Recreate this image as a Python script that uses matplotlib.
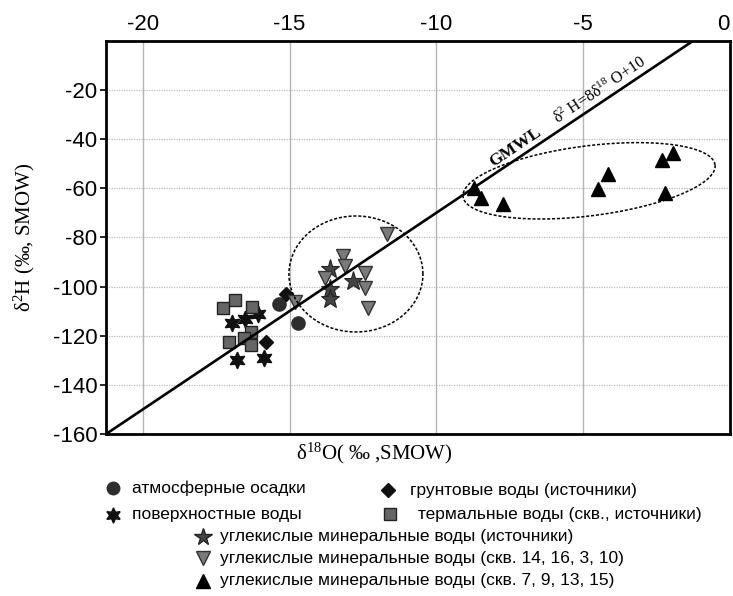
import numpy as np
import matplotlib.pyplot as plt
from matplotlib.lines import Line2D

plt.rcParams['font.family'] = ['Liberation Sans', 'DejaVu Sans']
plt.rcParams['axes.unicode_minus'] = False
plt.rcParams['mathtext.fontset'] = 'custom'
plt.rcParams['mathtext.rm'] = 'Liberation Serif'
plt.rcParams['mathtext.it'] = 'Liberation Serif:italic'

# data (delta18O, delta2H)
atm_x = [-15.35, -14.70]
atm_y = [-107.2, -114.7]
surf_x = [-16.97, -16.52, -16.07, -16.80, -15.87]
surf_y = [-114.7, -113.3, -111.3, -130.0, -129.2]
ground_x = [-15.12, -15.80]
ground_y = [-102.9, -122.4]
therm_x = [-17.26, -16.86, -16.29, -16.33, -16.54, -17.06, -16.33]
therm_y = [-108.6, -105.6, -108.2, -118.5, -120.8, -122.6, -123.8]
co2src_x = [-13.62, -12.85, -13.62, -13.62]
co2src_y = [-93.0, -97.7, -101.1, -105.2]
co2a_x = [-14.82, -11.67, -13.17, -13.11, -13.79, -12.43, -12.43, -12.32]
co2a_y = [-106.3, -78.7, -87.6, -91.6, -96.6, -94.7, -100.7, -108.8]
co2b_x = [-8.72, -8.49, -7.74, -4.49, -4.15, -2.33, -1.95, -2.21]
co2b_y = [-59.8, -63.8, -66.5, -60.4, -54.3, -48.6, -45.5, -61.8]

x_ticks = [-20, -15, -10, -5, 0]
y_ticks = [-160, -140, -120, -100, -80, -60, -40, -20]

labels = ['атмосферные осадки', 'грунтовые воды (источники)',
          'поверхностные воды', 'термальные воды (скв., источники)',
          'углекислые минеральные воды (источники)',
          'углекислые минеральные воды (скв. 14, 16, 3, 10)',
          'углекислые минеральные воды (скв. 7, 9, 13, 15)']

W, H = 733, 596
fig = plt.figure(figsize=(W / 100, H / 100), dpi=100)
L, R, B, T = 105.5 / W, 730 / W, 1 - 434 / H, 1 - 40.7 / H
ax = fig.add_axes([L, B, R - L, T - B])
xmin, xmax, ymin, ymax = -21.27, 0, -160, 0
ax.set_xlim(xmin, xmax)
ax.set_ylim(ymin, ymax)

# pixels per data unit, used for text angle and tilted ellipse
sx = (R - L) * W / (xmax - xmin)
sy = (T - B) * H / (ymax - ymin)

for v in x_ticks[:-1]:
    ax.axvline(v, color='#b5b5b5', lw=1, zorder=0)
for v in y_ticks[1:]:
    ax.axhline(v, color='#bdbdbd', lw=0.9, ls=(0, (1, 1)), zorder=0)

mk = dict(ls='none', zorder=2)
ax.plot(atm_x, atm_y, marker='o', ms=9.5, mfc='#2e2e2e', mec='#2e2e2e', **mk)
ax.plot(surf_x, surf_y, marker=(6, 1, 0), ms=12, mfc='#111111', mec='#111111', **mk)
ax.plot(ground_x, ground_y, marker='D', ms=7, mfc='#111111', mec='#111111', **mk)
ax.plot(therm_x, therm_y, marker='s', ms=9, mfc='#666666', mec='#222222', mew=1, **mk)
ax.plot(co2src_x, co2src_y, marker='*', ms=14, mfc='#444444', mec='#222222', mew=0.8, **mk)
ax.plot(co2a_x, co2a_y, marker='v', ms=10, mfc='#7a7a7a', mec='#333333', mew=1, **mk)
ax.plot(co2b_x, co2b_y, marker='^', ms=10, mfc='#000000', mec='#000000', **mk)

# GMWL: d2H = 8 d18O + 10
gx = np.linspace(xmin, (ymax - 10) / 8, 50)
ax.plot(gx, 8 * gx + 10, color='black', lw=1.9, zorder=3)
ang = np.degrees(np.arctan(8 * sy / sx))
ax.text(-7.31, -43.2, 'GMWL', rotation=ang, ha='center', va='center',
        family='Liberation Serif', weight='bold', fontsize=12.5,
        rotation_mode='anchor')
ax.text(-4.43, -20.4, 'δ$^{2}$ H=8δ$^{18}$ O+10', rotation=ang, ha='center',
        va='center', family='Liberation Serif', fontsize=11.5, rotation_mode='anchor')

# dotted ellipses (drawn in pixel space, converted to data units)
def ellipse(cx, cy, a, b, deg):
    t = np.linspace(0, 2 * np.pi, 300)
    th = np.radians(deg)
    u = a * np.cos(t) * np.cos(th) - b * np.sin(t) * np.sin(th)
    v = a * np.cos(t) * np.sin(th) + b * np.sin(t) * np.cos(th)
    ax.plot(cx + u / sx, cy + v / sy, color='black', lw=1.1,
            ls=(0, (2, 1.2)), zorder=2)

ellipse(-12.74, -94.9, 67, 58, 0)
ellipse(-4.80, -57.0, 127, 35, 7.2)

ax.xaxis.tick_top()
ax.set_xticks(x_ticks)
ax.set_yticks(y_ticks)
ax.tick_params(axis='x', length=0, pad=4, labelsize=16)
ax.tick_params(axis='y', length=4, width=1.2, pad=2, labelsize=16)
# keep the last top label inside the picture
ax.get_xticklabels()[-1].set_horizontalalignment('right')
for s in ax.spines.values():
    s.set_linewidth(2)

ax.set_ylabel('δ$^{2}$H (‰, SMOW)', family='Liberation Serif', fontsize=15)
ax.yaxis.set_label_coords((37 - 105.5) / ((R - L) * W), 0.5)
fig.text(374 / W, 1 - 453 / H, 'δ$^{18}$O( ‰ ,SMOW)', ha='center', va='center',
         family='Liberation Serif', fontsize=15)

# legend, laid out like the original
leg = [
    ('o', '#2e2e2e', '#2e2e2e', 9, 113, 488, 132),
    ('D', '#111111', '#111111', 7, 388, 490, 410),
    ((6, 1, 0), '#111111', '#111111', 11, 113, 515, 132),
    ('s', '#666666', '#222222', 9, 390, 514, 418),
    ('*', '#444444', '#222222', 13, 203, 537, 220),
    ('v', '#7a7a7a', '#333333', 10, 203, 558, 220),
    ('^', '#000000', '#000000', 10, 203, 581, 220),
]
for (m, fc, ec, ms, mx, my, tx), lab in zip(leg, labels):
    fig.add_artist(Line2D([mx / W], [1 - my / H], marker=m, ms=ms, mfc=fc,
                          mec=ec, ls='none', transform=fig.transFigure))
    fig.text(tx / W, 1 - my / H, lab, ha='left', va='center', fontsize=12.5)

fig.savefig('out.png', dpi=100)
